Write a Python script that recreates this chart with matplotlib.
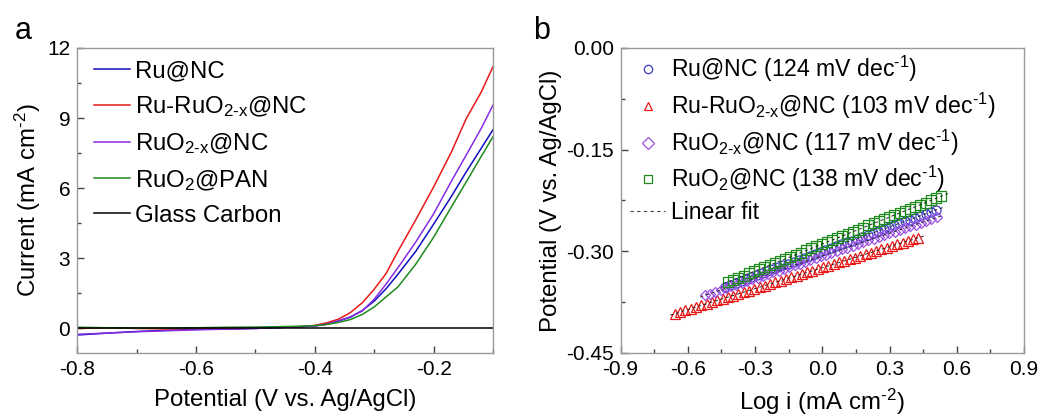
import numpy as np
import matplotlib
matplotlib.use('Agg')
import matplotlib.pyplot as plt
from matplotlib.ticker import MultipleLocator, FormatStrFormatter
from matplotlib.lines import Line2D

plt.rcParams['font.family'] = ['Liberation Sans', 'DejaVu Sans']
plt.rcParams['mathtext.fontset'] = 'custom'
plt.rcParams['mathtext.rm'] = 'Liberation Sans'
plt.rcParams['mathtext.it'] = 'Liberation Sans:italic'
plt.rcParams['axes.unicode_minus'] = False

# ---- panel a: LSV curves ----
potential = [-0.80, -0.75, -0.70, -0.65, -0.60, -0.55, -0.50, -0.45, -0.42, -0.40,
             -0.38, -0.36, -0.34, -0.32, -0.30, -0.28, -0.26, -0.23, -0.20, -0.17,
             -0.145, -0.12, -0.10]
cur_ru = [-0.28, -0.20, -0.13, -0.08, -0.04, -0.02, 0.00, 0.05, 0.08, 0.11,
          0.18, 0.32, 0.48, 0.77, 1.17, 1.70, 2.32, 3.30, 4.46, 5.65,
          6.70, 7.70, 8.50]
cur_ru_ruo = [0.00, 0.03, 0.00, -0.02, 0.00, -0.03, 0.02, 0.05, 0.08, 0.13,
              0.24, 0.40, 0.68, 1.10, 1.68, 2.35, 3.30, 4.65, 6.05, 7.55,
              8.98, 10.10, 11.20]
cur_ruo = [-0.25, -0.20, -0.14, -0.10, -0.06, -0.03, 0.00, 0.05, 0.08, 0.11,
           0.18, 0.33, 0.50, 0.75, 1.25, 1.90, 2.60, 3.70, 4.90, 6.30,
           7.42, 8.55, 9.55]
cur_pan = [0.05, 0.03, 0.02, 0.02, 0.03, 0.05, 0.06, 0.08, 0.10, 0.12,
           0.17, 0.26, 0.38, 0.60, 0.92, 1.35, 1.78, 2.75, 3.90, 5.20,
           6.27, 7.35, 8.20]
gc_potential = [-0.80, -0.10]
cur_gc = [0.0, 0.0]

# ---- panel b: Tafel data ----
logi_ru = [-0.434, -0.410, -0.387, -0.363, -0.340, -0.316, -0.293, -0.269, -0.246, -0.222,
           -0.198, -0.175, -0.151, -0.128, -0.104, -0.081, -0.057, -0.034, -0.010, 0.013,
           0.037, 0.061, 0.084, 0.108, 0.131, 0.155, 0.178, 0.202, 0.225, 0.249,
           0.273, 0.296, 0.320, 0.343, 0.367, 0.390, 0.414, 0.437, 0.461, 0.484,
           0.508]
v_ru = [-0.3520, -0.3492, -0.3463, -0.3435, -0.3407, -0.3379, -0.3351, -0.3322, -0.3294, -0.3266,
        -0.3238, -0.3209, -0.3181, -0.3153, -0.3125, -0.3096, -0.3068, -0.3040, -0.3012, -0.2983,
        -0.2955, -0.2927, -0.2899, -0.2870, -0.2842, -0.2814, -0.2786, -0.2757, -0.2729, -0.2701,
        -0.2673, -0.2644, -0.2616, -0.2588, -0.2560, -0.2531, -0.2503, -0.2475, -0.2447, -0.2418,
        -0.2390]
logi_ru_ruo = [-0.658, -0.634, -0.611, -0.587, -0.563, -0.540, -0.516, -0.493, -0.469, -0.445,
               -0.422, -0.398, -0.374, -0.351, -0.327, -0.304, -0.280, -0.256, -0.233, -0.209,
               -0.185, -0.162, -0.138, -0.115, -0.091, -0.067, -0.044, -0.020, 0.004, 0.027,
               0.051, 0.075, 0.098, 0.122, 0.145, 0.169, 0.193, 0.216, 0.240, 0.264,
               0.287, 0.311, 0.334, 0.358, 0.382, 0.405, 0.429]
v_ru_ruo = [-0.3920, -0.3896, -0.3871, -0.3847, -0.3823, -0.3798, -0.3774, -0.3750, -0.3725, -0.3701,
            -0.3677, -0.3652, -0.3628, -0.3603, -0.3579, -0.3555, -0.3530, -0.3506, -0.3482, -0.3457,
            -0.3433, -0.3409, -0.3384, -0.3360, -0.3336, -0.3311, -0.3287, -0.3263, -0.3238, -0.3214,
            -0.3190, -0.3165, -0.3141, -0.3117, -0.3092, -0.3068, -0.3044, -0.3019, -0.2995, -0.2971,
            -0.2946, -0.2922, -0.2898, -0.2873, -0.2849, -0.2825, -0.2800]
logi_ruo = [-0.524, -0.500, -0.477, -0.453, -0.430, -0.406, -0.383, -0.359, -0.336, -0.312,
            -0.289, -0.265, -0.242, -0.218, -0.195, -0.171, -0.148, -0.124, -0.101, -0.077,
            -0.054, -0.030, -0.007, 0.017, 0.040, 0.064, 0.088, 0.111, 0.135, 0.158,
            0.182, 0.205, 0.229, 0.252, 0.276, 0.299, 0.323, 0.346, 0.370, 0.393,
            0.417, 0.440, 0.464, 0.487, 0.511]
v_ruo = [-0.3650, -0.3624, -0.3598, -0.3572, -0.3545, -0.3519, -0.3493, -0.3467, -0.3441, -0.3415,
         -0.3389, -0.3362, -0.3336, -0.3310, -0.3284, -0.3258, -0.3232, -0.3206, -0.3180, -0.3153,
         -0.3127, -0.3101, -0.3075, -0.3049, -0.3023, -0.2997, -0.2970, -0.2944, -0.2918, -0.2892,
         -0.2866, -0.2840, -0.2814, -0.2787, -0.2761, -0.2735, -0.2709, -0.2683, -0.2657, -0.2631,
         -0.2605, -0.2578, -0.2552, -0.2526, -0.2500]
logi_pan = [-0.420, -0.397, -0.374, -0.350, -0.327, -0.304, -0.281, -0.258, -0.234, -0.211,
            -0.188, -0.165, -0.142, -0.118, -0.095, -0.072, -0.049, -0.026, -0.002, 0.021,
            0.044, 0.067, 0.090, 0.114, 0.137, 0.160, 0.183, 0.206, 0.230, 0.253,
            0.276, 0.299, 0.322, 0.346, 0.369, 0.392, 0.415, 0.438, 0.462, 0.485,
            0.508, 0.530]
v_pan = [-0.3450, -0.3419, -0.3388, -0.3358, -0.3327, -0.3296, -0.3265, -0.3234, -0.3204, -0.3173,
         -0.3142, -0.3111, -0.3080, -0.3050, -0.3019, -0.2988, -0.2957, -0.2926, -0.2896, -0.2865,
         -0.2834, -0.2803, -0.2772, -0.2742, -0.2711, -0.2680, -0.2649, -0.2618, -0.2588, -0.2557,
         -0.2526, -0.2495, -0.2464, -0.2434, -0.2403, -0.2372, -0.2341, -0.2310, -0.2280, -0.2249,
         -0.2218, -0.2187]

c_blue = '#1010c0'
c_red = '#e81818'
c_purple = '#8a2be2'
c_green = '#1e8a1e'
frame_col = '#999999'

fig = plt.figure(figsize=(10.59, 4.17), dpi=100)

def style_axes(ax):
    for sp in ax.spines.values():
        sp.set_color(frame_col)
        sp.set_linewidth(1.0)
    ax.tick_params(which='both', direction='in', top=False, right=False, color='#444444', labelsize=15, pad=5)
    ax.tick_params(which='major', length=5, width=1)
    ax.tick_params(which='minor', length=3, width=1)

# ---------------- panel a ----------------
ax = fig.add_axes([0.073, 0.1535, 0.3925, 0.7315])
ax.plot(potential, cur_ru, color=c_blue, lw=1.1, label='Ru@NC')
ax.plot(potential, cur_ru_ruo, color=c_red, lw=1.1, label='Ru-RuO$_{\\text{2-x}}$@NC')
ax.plot(potential, cur_ruo, color=c_purple, lw=1.1, label='RuO$_{\\text{2-x}}$@NC')
ax.plot(potential, cur_pan, color=c_green, lw=1.1, label='RuO$_2$@PAN')
ax.plot(gc_potential, cur_gc, color='black', lw=1.1, label='Glass Carbon')
ax.set_xlim(-0.8, -0.1)
ax.set_ylim(-1.05, 12)
ax.xaxis.set_major_locator(MultipleLocator(0.2))
ax.xaxis.set_minor_locator(MultipleLocator(0.1))
ax.yaxis.set_major_locator(MultipleLocator(3))
ax.yaxis.set_minor_locator(MultipleLocator(1.5))
ax.xaxis.set_major_formatter(FormatStrFormatter('%.1f'))
style_axes(ax)
ax.set_xlabel('Potential (V vs. Ag/AgCl)', fontsize=17.3, labelpad=7)
ax.set_ylabel('Current (mA cm$^{\\text{-2}}$)', fontsize=17.3, labelpad=3)
ax.legend(loc='upper left', bbox_to_anchor=(0.0, 1.015), frameon=False, fontsize=17.3,
          handlelength=1.5, handletextpad=0.2, labelspacing=0.5, borderaxespad=0.3)
fig.text(0.014, 1 - 39 / 417, 'a', fontsize=22, va='baseline')

# ---------------- panel b ----------------
bx = fig.add_axes([0.586, 0.1535, 0.381, 0.7315])
series = [
    (logi_ru, v_ru, 'o', '#3838c8', 'Ru@NC (124 mV dec$^{\\text{-1}}$)'),
    (logi_ru_ruo, v_ru_ruo, '^', c_red, 'Ru-RuO$_{\\text{2-x}}$@NC (103 mV dec$^{\\text{-1}}$)'),
    (logi_ruo, v_ruo, 'D', '#9a50e0', 'RuO$_{\\text{2-x}}$@NC (117 mV dec$^{\\text{-1}}$)'),
    (logi_pan, v_pan, 's', c_green, 'RuO$_2$@NC (138 mV dec$^{\\text{-1}}$)'),
]
handles = []
for lx, vy, mk, col, lab in series:
    ms = 6.5 if mk != 'D' else 5.5
    bx.plot(lx, vy, ls='none', marker=mk, ms=ms, mfc='none', mec=col, mew=0.9)
    p = np.polyfit(lx, vy, 1)
    fx = np.array([lx[0] - 0.02, lx[-1] + 0.03])
    bx.plot(fx, np.polyval(p, fx), color='#222222', lw=0.7, ls=(0, (3, 3)))
    handles.append(Line2D([], [], ls='none', marker=mk, ms=6, mfc='none', mec=col, mew=0.9, label=lab))
handles.append(Line2D([], [], color='#444444', lw=0.8, ls=(0, (3, 3)), label='Linear fit'))
bx.set_xlim(-0.9, 0.9)
bx.set_ylim(-0.45, 0.0)
bx.xaxis.set_major_locator(MultipleLocator(0.3))
bx.xaxis.set_minor_locator(MultipleLocator(0.15))
bx.yaxis.set_major_locator(MultipleLocator(0.15))
bx.yaxis.set_minor_locator(MultipleLocator(0.075))
bx.xaxis.set_major_formatter(FormatStrFormatter('%.1f'))
bx.yaxis.set_major_formatter(FormatStrFormatter('%.2f'))
style_axes(bx)
bx.set_xlabel('Log i (mA cm$^{\\text{-2}}$)', fontsize=17.3, labelpad=6)
bx.set_ylabel('Potential (V vs. Ag/AgCl)', fontsize=17.3, labelpad=3)
bx.legend(handles=handles, loc='upper left', bbox_to_anchor=(-0.01, 1.025), frameon=False, fontsize=16.6,
          handlelength=1.5, handletextpad=0.25, labelspacing=0.28, borderaxespad=0.2)
fig.text(0.503, 1 - 39 / 417, 'b', fontsize=22, va='baseline')

fig.savefig('out.png', dpi=100)
